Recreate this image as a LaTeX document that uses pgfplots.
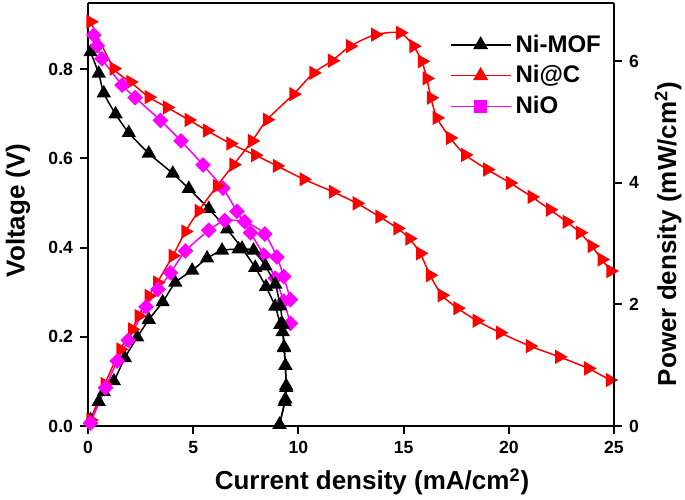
\documentclass[border=0pt]{standalone}
\usepackage{pgfplots}
\pgfplotsset{compat=1.18}
\usepackage{fontspec}
\setmainfont{Liberation Sans}
\definecolor{nired}{RGB}{255,0,0}
\definecolor{nimag}{RGB}{255,0,255}
\begin{document}
\begin{tikzpicture}
\path[use as bounding box] (-44pt,-36.5pt) rectangle (298.5pt,213pt);
\pgfplotsset{
  every axis/.append style={
    scale only axis, width=263pt, height=211.5pt,
    at={(0,0)}, anchor=south west,
    xmin=0, xmax=25, clip=false,
    axis line style={line width=1pt},
    tick style={line width=1pt, black},
    tick align=outside, major tick length=4pt,
    /pgf/number format/assume math mode=true,
    ticklabel style={font=\bfseries\fontsize{8.8}{10}\selectfont},
    label style={font=\bfseries\fontsize{13}{15}\selectfont},
  },
}
% polarisation curves, left axis
\begin{axis}[
  axis x line*=bottom, axis y line*=left,
  ymin=0, ymax=0.948,
  xtick={0,5,...,25}, ytick={0,0.2,...,0.8},
  yticklabel style={/pgf/number format/fixed, /pgf/number format/fixed zerofill, /pgf/number format/precision=1},
  xlabel={Current density (mA/cm\textsuperscript{2})},
  ylabel={Voltage (V)},
  xlabel style={at={(axis description cs:0.54,-0.132)}, anchor=center},
  ylabel style={at={(axis description cs:-0.133,0.51)}, anchor=center},
  legend style={at={(axis description cs:0.688,0.945)}, anchor=north west, draw=none, fill=none,
    font=\bfseries\fontsize{12}{14}\selectfont, row sep=1.2pt, inner xsep=0pt},
  legend cell align=left,
  legend image code/.code={\draw[mark repeat=2,mark phase=2] plot coordinates {(0cm,0cm) (0.52cm,0cm) (1.05cm,0cm)};},
]
\addplot[black, line width=0.75pt, smooth, tension=0.4, mark=triangle*, mark size=3.4pt, forget plot] coordinates {
(0.12,0.838)(0.51,0.790)(0.75,0.746)(1.31,0.699)(1.94,0.657)(2.89,0.611)(4.03,0.566)(4.79,0.532)(5.74,0.487)(6.61,0.441)(7.32,0.398)(7.95,0.355)(8.46,0.312)(8.9,0.268)(9.14,0.227)(9.25,0.211)(9.32,0.175)(9.38,0.135)(9.42,0.09)(9.38,0.06)(9.1,0.003)
};
\addplot[nired, line width=0.75pt, smooth, tension=0.4, mark=triangle*, mark size=3.4pt, mark options={rotate=-90}, forget plot] coordinates {
(0.12,0.906)(1.23,0.801)(2.02,0.771)(2.89,0.737)(3.76,0.714)(4.79,0.686)(5.66,0.662)(6.77,0.633)(7.95,0.607)(8.98,0.583)(10.25,0.553)(11.64,0.525)(12.78,0.499)(13.86,0.469)(14.71,0.443)(15.28,0.420)(15.79,0.387)(16.26,0.338)(16.82,0.293)(17.56,0.264)(18.48,0.236)(19.59,0.209)(21.01,0.179)(22.4,0.155)(23.78,0.129)(24.81,0.103)
};
\addplot[nimag, line width=0.75pt, smooth, tension=0.4, mark=square*, mark size=2.4pt, mark options={rotate=45}, forget plot] coordinates {
(0.28,0.876)(0.44,0.852)(0.66,0.823)(1.62,0.764)(2.24,0.736)(3.44,0.685)(4.42,0.639)(5.47,0.585)(6.41,0.533)(7.08,0.481)(7.72,0.433)(8.35,0.383)(8.9,0.331)(9.3,0.28)(9.62,0.23)
};
\addlegendimage{black, line width=0.75pt, mark=triangle*, mark size=3.6pt}
\addlegendentry{Ni-MOF}
\addlegendimage{nired, line width=0.75pt, mark=triangle*, mark size=3.6pt}
\addlegendentry{Ni@C}
\addlegendimage{nimag, line width=0.75pt, mark=square*, mark size=2.8pt}
\addlegendentry{NiO}
\end{axis}
% power density curves, right axis
\begin{axis}[
  axis x line*=top, axis y line*=right,
  xtick=\empty,
  ymin=0, ymax=6.96,
  ytick={0,2,4,6},
  ylabel={Power density (mW/cm\textsuperscript{2})},
  ylabel style={at={(axis description cs:1.103,0.454)}, anchor=center},
]
\addplot[black, line width=0.75pt, smooth, tension=0.4, mark=triangle*, mark size=3.4pt] coordinates {
(0.12,0.1)(0.51,0.4)(0.75,0.56)(1.23,0.74)(1.75,1.12)(2.34,1.46)(2.89,1.75)(3.55,2.04)(4.15,2.36)(4.95,2.56)(5.66,2.76)(6.37,2.89)(7.16,2.91)(7.87,2.89)(8.43,2.63)(8.9,2.33)(9.14,1.97)(9.25,1.67)(9.32,1.3)(9.38,0.99)(9.42,0.63)(9.35,0.4)(9.1,0.02)
};
\addplot[nired, line width=0.75pt, smooth, tension=0.4, mark=triangle*, mark size=3.4pt, mark options={rotate=-90}] coordinates {
(0.12,0.1)(0.8,0.69)(1.54,1.26)(2.1,1.59)(2.41,1.81)(2.89,2.14)(3.29,2.36)(4.03,2.80)(4.63,3.2)(5.26,3.54)(6.13,3.95)(6.92,4.30)(7.8,4.69)(8.51,5.04)(9.77,5.46)(10.72,5.81)(11.6,6.01)(12.46,6.25)(13.65,6.44)(14.84,6.47)(15.47,6.25)(15.87,6.0)(16.1,5.72)(16.3,5.40)(16.58,5.07)(17.21,4.74)(17.93,4.46)(18.98,4.22)(20.06,4.0)(21.09,3.77)(21.96,3.56)(22.75,3.36)(23.39,3.18)(23.94,2.96)(24.42,2.74)(24.84,2.55)
};
\addplot[nimag, line width=0.75pt, smooth, tension=0.4, mark=square*, mark size=2.4pt, mark options={rotate=45}] coordinates {
(0.12,0.05)(0.83,0.63)(1.39,1.07)(1.91,1.41)(2.76,1.96)(3.33,2.25)(3.92,2.52)(4.63,2.88)(5.74,3.22)(6.5,3.38)(7.45,3.36)(8.4,3.16)(8.98,2.78)(9.3,2.46)(9.62,2.08)
};
\end{axis}
\end{tikzpicture}
\end{document}
